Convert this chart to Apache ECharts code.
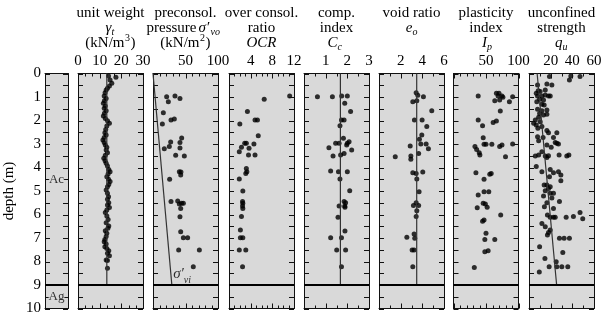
<!DOCTYPE html>
<html>
<head>
<meta charset="utf-8">
<script src="https://cdn.jsdelivr.net/npm/echarts@6/dist/echarts.min.js"></script>
<style>
  html, body { margin: 0; padding: 0; background: #fff; }
  #chart { width: 610px; height: 320px; }
</style>
</head>
<body>
<div id="chart"></div>
<script>
// values: [value, depth (m)]
const gammaT = [
  [14.1, 0.11], [14.8, 0.28], [17.5, 0.16], [15.6, 0.42], [14.5, 0.53], [13.6, 0.63],
  [13.0, 0.70], [12.5, 0.82], [12.1, 0.96], [13.0, 1.06], [12.2, 1.16], [11.7, 1.27],
  [12.6, 1.38], [12.1, 1.48], [13.0, 1.58], [12.2, 1.69], [11.7, 1.81], [12.6, 1.91],
  [13.6, 2.01], [14.5, 2.12], [13.3, 2.23], [12.8, 2.38], [12.4, 2.52], [13.0, 2.62],
  [12.1, 2.72], [11.5, 2.83], [12.1, 2.94], [12.6, 3.04], [13.3, 3.14], [13.0, 3.25],
  [13.6, 3.37], [12.6, 3.48], [11.9, 3.61], [12.5, 3.71], [13.0, 3.82], [13.6, 3.94],
  [14.2, 4.08], [14.8, 4.18], [13.9, 4.28], [13.3, 4.39], [14.1, 4.50], [14.8, 4.60],
  [14.2, 4.72], [13.6, 4.82], [13.0, 4.96], [13.6, 5.10], [14.1, 5.24], [13.6, 5.35],
  [14.2, 5.50], [13.6, 5.60], [14.5, 5.70], [13.3, 5.81], [12.6, 5.92], [13.3, 6.06],
  [13.9, 6.21], [13.0, 6.35], [14.2, 6.49], [13.8, 6.59], [12.6, 6.69], [13.3, 6.80],
  [13.0, 6.94], [12.4, 7.06], [12.1, 7.16], [13.0, 7.26], [12.4, 7.37], [13.3, 7.45],
  [14.2, 7.54], [13.6, 7.65], [14.5, 7.75], [13.0, 7.94], [13.6, 7.96], [13.6, 8.29]
];
const gammaLine = [[13.3, 0], [13.3, 9]];

const sigmaP = [
  [21, 0.99], [23.6, 1.2], [33.8, 0.96], [41.5, 1.06], [15.9, 1.67], [14.4, 2.15],
  [27.7, 1.98], [32.8, 1.94], [44.1, 2.74], [27.2, 2.91], [41.5, 2.94], [17.4, 3.2],
  [25.1, 3.11], [41.5, 3.17], [34.9, 3.48], [48.2, 3.51], [40.5, 4.18], [43, 4.19],
  [42.6, 4.32], [25.6, 4.5], [27.7, 5.45], [38, 5.43], [40.5, 5.55], [44, 5.52],
  [46.7, 5.52], [42.6, 5.74], [41.5, 6.1], [42.6, 6.73], [46.7, 6.99], [53.3, 6.99],
  [39.5, 7.51], [71.3, 7.51], [62, 8.22]
];
const sigmaVi = [[0, 0], [29, 9]];
const sigmaViLabel = [[45, 8.62]];

const ocr = [
  [11.2, 0.96], [6.5, 1.1], [3.4, 1.62], [4.8, 1.98], [5.25, 1.98], [2.0, 2.15],
  [5.4, 2.65], [2.9, 2.97], [3.2, 2.97], [2.3, 3.14], [3.7, 3.18], [4.6, 3.0],
  [1.9, 3.33], [3.6, 3.47], [4.8, 3.47], [3.2, 4.04], [3.3, 4.18], [3.1, 4.25],
  [1.9, 4.49], [2.55, 5.0], [2.5, 5.45], [2.55, 5.52], [2.5, 5.64], [2.55, 5.74],
  [2.3, 6.09], [2.1, 6.66], [2.1, 6.99], [2.55, 6.99], [1.9, 7.51], [3.1, 7.51],
  [2.5, 8.22]
];

const cc = [
  [0.62, 0.99], [1.31, 0.99], [1.74, 0.96], [2.0, 0.96], [1.88, 1.27], [2.15, 1.62],
  [1.73, 1.98], [1.85, 1.98], [1.66, 2.22], [1.82, 2.76], [1.46, 2.97], [1.62, 2.97],
  [2.0, 2.97], [2.08, 2.9], [1.97, 3.04], [1.15, 3.16], [2.2, 3.26], [1.85, 3.4],
  [1.69, 3.47], [1.34, 3.51], [1.23, 4.15], [1.59, 4.18], [2.0, 4.18], [1.66, 4.49],
  [2.11, 4.99], [1.85, 5.45], [1.92, 5.5], [1.88, 5.64], [1.62, 5.64], [1.89, 5.69],
  [1.57, 6.12], [1.89, 6.7], [1.23, 6.99], [1.73, 6.99], [1.51, 7.51], [1.92, 7.51],
  [1.73, 8.22]
];
const ccLine = [[1.68, 0], [1.68, 9]];

const e0 = [
  [3.43, 0.82], [3.58, 0.93], [3.12, 1.2], [3.49, 1.16], [4.1, 0.99], [4.87, 1.58],
  [3.27, 1.98], [3.98, 1.98], [4.41, 2.26], [3.95, 2.62], [3.73, 2.8], [3.86, 3.0],
  [4.35, 3.0], [2.88, 3.09], [4.56, 3.2], [3.66, 3.4], [1.5, 3.54], [2.94, 3.51],
  [2.94, 3.65], [3.12, 4.22], [3.43, 4.25], [4.04, 4.19], [3.49, 4.49], [3.7, 5.03],
  [3.43, 5.5], [3.18, 5.62], [3.66, 5.62], [3.49, 5.84], [3.43, 6.09], [3.24, 6.83],
  [2.57, 6.97], [3.3, 7.01], [3.06, 7.51], [3.24, 7.51], [3.12, 8.22]
];
const e0Line = [[3.48, 0], [3.48, 9]];

const ip = [
  [38, 0.96], [66, 0.84], [70, 0.84], [68.6, 0.96], [74.6, 0.96], [76, 1.01],
  [63.5, 1.16], [71, 1.13], [86, 1.2], [91, 0.99], [72, 1.6], [38, 1.98],
  [44.7, 2.22], [61, 2.09], [66, 2.02], [45.7, 2.73], [33, 3.11], [35.6, 3.23],
  [47, 3.01], [50, 3.01], [59, 3.01], [71, 3.11], [74.6, 3.04], [91, 3.0],
  [39.6, 3.37], [40.6, 3.47], [80, 3.54], [34.5, 4.22], [55.8, 4.29], [58, 4.25],
  [47, 4.5], [38, 5.17], [47, 5.03], [54.3, 5.03], [45.7, 5.52], [49, 5.55],
  [51.8, 5.69], [36.5, 5.71], [72.6, 6.02], [44.7, 6.29], [47, 6.23], [50, 6.8],
  [48.2, 7.06], [63.5, 7.06], [48.2, 7.58], [53.3, 7.54], [32, 8.25]
];

const qu = [
  [18.9, 0.13], [38.6, 0.11], [37.3, 0.28], [47.1, 0.13], [7.9, 0.49], [16.5, 0.45],
  [21.1, 0.49], [15, 0.7], [8.5, 0.73], [6.7, 0.84], [10.3, 0.77], [7.9, 0.96],
  [11.9, 0.96], [15, 0.92], [18, 0.96], [19.6, 0.96], [9.8, 1.1], [13.4, 1.13],
  [7.2, 1.2], [11.9, 1.31], [14, 1.34], [7.9, 1.52], [11.9, 1.58], [16.5, 1.55],
  [9.8, 1.7], [13.4, 1.77], [16.5, 1.73], [8.9, 1.86], [5.8, 1.98], [10.3, 2.05],
  [6.7, 2.19], [4.3, 2.12], [8.2, 2.33], [11.9, 2.26], [16.5, 2.43], [18, 2.52],
  [25.7, 2.52], [22.6, 2.72], [7.9, 2.69], [13, 2.72], [8.9, 2.86], [24.2, 2.94],
  [25.7, 2.97], [27.2, 3.0], [16.5, 3.04], [20.5, 3.14], [11.9, 3.33], [5.8, 3.51],
  [8.9, 3.47], [15, 3.51], [16.5, 3.57], [18, 3.5], [34.9, 3.51], [36.8, 3.47],
  [27.8, 3.47], [6.7, 3.96], [11.9, 4.18], [19.6, 4.08], [22.6, 4.22], [27.2, 4.18],
  [29.4, 4.32], [29.4, 4.56], [18.9, 4.39], [14, 4.74], [16.5, 4.74], [18, 4.89],
  [15, 4.99], [19.6, 4.82], [19.6, 5.1], [22.6, 5.1], [13.4, 5.21], [16.5, 5.5],
  [21.1, 5.3], [28.1, 5.45], [14.2, 5.67], [22.6, 5.74], [17, 6.02], [19.6, 6.12],
  [22.6, 6.12], [24.2, 6.12], [34.3, 6.12], [41, 6.09], [47.1, 5.92], [49.6, 6.18],
  [11.9, 6.38], [15, 6.52], [19.6, 6.66], [18, 6.77], [17, 6.87], [28.1, 7.01],
  [32.4, 7.01], [37.3, 7.01], [9.8, 7.37], [31.2, 7.62], [14.7, 7.87], [25.1, 8.01],
  [18.6, 8.22], [25.7, 8.22], [30.3, 8.22], [35.8, 8.22], [9.5, 8.45]
];
const quLine = [[7.5, 0], [25.5, 9]];

const soilLayers = [[0.5, 4.5, 'Ac'], [0.5, 9.5, 'Ag']];
const layerBoundary = 9;
const depthMin = 0, depthMax = 10, depthTickStep = 0.5;

const FONT = '"Liberation Serif", "Times New Roman", serif';
const TOP = 73.5;
const HEIGHT = 235;
const PANEL_W = 65;
const BG = '#d9d9d9';
const INK = '#111';

// one entry per property column
const panels = [
  { left: 78,    min: 0, max: 30,  interval: 10, minor: 3, zero: true,  points: gammaT, line: gammaLine },
  { left: 153,   min: 0, max: 100, interval: 50, minor: 5, zero: false, points: sigmaP, line: sigmaVi },
  { left: 229,   min: 0, max: 12,  interval: 4,  minor: 4, zero: false, points: ocr,    line: null },
  { left: 304,   min: 0, max: 3,   interval: 1,  minor: 2, zero: false, points: cc,     line: ccLine },
  { left: 379,   min: 0, max: 6,   interval: 2,  minor: 2, zero: false, points: e0,     line: e0Line },
  { left: 453.5, min: 0, max: 100, interval: 50, minor: 5, zero: false, points: ip,     line: null },
  { left: 529,   min: 0, max: 60,  interval: 20, minor: 2, zero: false, points: qu,     line: quLine }
];
const soilAxis = { min: 0, max: 1, interval: 1, minor: 1, zero: false, noXTicks: true };

const grids = [{ left: 45, top: TOP, width: 23, height: HEIGHT, show: true, backgroundColor: BG, borderWidth: 0 }];
panels.forEach(p => grids.push({ left: p.left, top: TOP, width: PANEL_W, height: HEIGHT, show: true, backgroundColor: BG, borderWidth: 0 }));

const ink = () => ({ color: INK, width: 1 });

// axis ticks would not render here, so the inward ticks come from a custom series below
function xAxisFor(gi, p, position, showLabel) {
  return {
    type: 'value', gridIndex: gi, position: position,
    min: p.min, max: p.max, interval: p.interval,
    axisLine: { show: true, onZero: false, lineStyle: ink() },
    axisTick: { show: false },
    splitLine: { show: false },
    axisLabel: {
      show: showLabel, fontFamily: FONT, fontSize: 15, color: '#000', margin: 5,
      formatter: v => (v === 0 && !p.zero) ? '' : String(v)
    }
  };
}

function yAxisFor(gi, position, showLabel) {
  const ax = {
    type: 'value', gridIndex: gi, position: position, inverse: true,
    min: depthMin, max: depthMax, interval: 1,
    axisLine: { show: true, onZero: false, lineStyle: ink() },
    axisTick: { show: false },
    splitLine: { show: false },
    axisLabel: { show: showLabel, fontFamily: FONT, fontSize: 15, color: '#000', margin: 4 }
  };
  if (showLabel) {
    ax.name = 'depth (m)';
    ax.nameLocation = 'middle';
    ax.nameGap = 28;
    ax.nameRotate = 90;
    ax.nameTextStyle = { fontFamily: FONT, fontSize: 15, color: '#000' };
  }
  return ax;
}

const xAxes = [xAxisFor(0, soilAxis, 'top', false), xAxisFor(0, soilAxis, 'bottom', false)];
const yAxes = [yAxisFor(0, 'left', true), yAxisFor(0, 'right', false)];
panels.forEach((p, i) => {
  xAxes.push(xAxisFor(i + 1, p, 'top', true), xAxisFor(i + 1, p, 'bottom', false));
  yAxes.push(yAxisFor(i + 1, 'left', false), yAxisFor(i + 1, 'right', false));
});

// tick list for one panel: [0, x value, length] on top/bottom, [1, depth, length] on left/right
function tickList(p) {
  const out = [];
  if (!p.noXTicks) {
    const step = p.interval / p.minor;
    const n = Math.round((p.max - p.min) / step);
    for (let k = 0; k <= n; k++) out.push([0, p.min + k * step, k % p.minor === 0 ? 5 : 3]);
  }
  const m = Math.round((depthMax - depthMin) / depthTickStep);
  for (let k = 0; k <= m; k++) out.push([1, depthMin + k * depthTickStep, 5]);
  return out;
}

function tickSeries(p, axisIndex) {
  return {
    type: 'custom', xAxisIndex: axisIndex, yAxisIndex: axisIndex, silent: true, z: 3,
    data: tickList(p),
    renderItem: (params, api) => {
      const kind = api.value(0), v = api.value(1), len = api.value(2);
      const st = { stroke: INK, lineWidth: 1 };
      if (kind === 0) {
        const a = api.coord([v, depthMin]), b = api.coord([v, depthMax]);
        const x = Math.round(a[0]) + 0.5;
        return { type: 'group', children: [
          { type: 'line', shape: { x1: x, y1: a[1], x2: x, y2: a[1] + len }, style: st },
          { type: 'line', shape: { x1: x, y1: b[1], x2: x, y2: b[1] - len }, style: st }
        ] };
      }
      const a = api.coord([p.min, v]), b = api.coord([p.max, v]);
      const y = Math.round(a[1]) + 0.5;
      return { type: 'group', children: [
        { type: 'line', shape: { x1: a[0], y1: y, x2: a[0] + len, y2: y }, style: st },
        { type: 'line', shape: { x1: b[0], y1: y, x2: b[0] - len, y2: y }, style: st }
      ] };
    }
  };
}

const boundaryMark = () => ({
  silent: true, symbol: ['none', 'none'], label: { show: false },
  lineStyle: { color: '#000', width: 2, type: 'solid' },
  data: [{ yAxis: layerBoundary }]
});

const series = [{
  type: 'scatter', xAxisIndex: 0, yAxisIndex: 0, symbolSize: 0, z: 4,
  data: soilLayers,
  label: {
    show: true, position: 'inside', formatter: d => d.value[2],
    fontFamily: FONT, fontSize: 13, color: '#000', backgroundColor: BG
  },
  markLine: boundaryMark()
}, tickSeries(soilAxis, 0)];

panels.forEach((p, i) => {
  const ax = (i + 1) * 2;
  series.push({
    type: 'scatter', xAxisIndex: ax, yAxisIndex: ax, symbolSize: 5,
    itemStyle: { color: '#000' }, data: p.points, markLine: boundaryMark()
  });
  if (p.line) {
    series.push({
      type: 'line', xAxisIndex: ax, yAxisIndex: ax, symbol: 'none',
      lineStyle: { color: '#333', width: 1.2 }, data: p.line
    });
  }
  series.push(tickSeries(p, ax));
});

// σ'vi label next to the in-situ stress line
series.push({
  type: 'scatter', xAxisIndex: 4, yAxisIndex: 4, symbolSize: 0, data: sigmaViLabel,
  label: {
    show: true, position: 'inside',
    formatter: '{s|σ′}{b|vi}{pad| }',
    rich: {
      s: { fontFamily: FONT, fontSize: 15, fontStyle: 'italic', color: '#000', lineHeight: 15, verticalAlign: 'top' },
      b: { fontFamily: FONT, fontSize: 10, fontStyle: 'italic', color: '#000', lineHeight: 10, verticalAlign: 'bottom' },
      pad: { fontSize: 1, lineHeight: 19 }
    }
  }
});

// column headings
const heads = [];
function txt(x, y, text, opt) {
  opt = opt || {};
  heads.push({
    type: 'text', x: x, y: y,
    style: {
      text: text, fill: '#000', fontFamily: FONT,
      fontSize: opt.size || 15, fontStyle: opt.italic ? 'italic' : 'normal',
      align: opt.align || 'center', verticalAlign: 'middle'
    }
  });
}
function sym(cx, y, main, sub) {
  txt(cx + 1, y, main, { italic: true, align: 'right' });
  txt(cx + 1, y + 4, sub, { italic: true, size: 10, align: 'left' });
}
const cx = panels.map(p => p.left + PANEL_W / 2);
const L1 = 13, L2 = 28.5, L3 = 43.5;

txt(cx[0], L1, 'unit weight');
sym(cx[0], L2, 'γ', 't');
txt(cx[0] + 14, L3, '(kN/m', { align: 'right' });
txt(cx[0] + 14.5, L3 - 5, '3', { size: 10, align: 'left' });
txt(cx[0] + 20, L3, ')', { align: 'left' });

txt(cx[1], L1, 'preconsol.');
txt(cx[1] + 11, L2, 'pressure', { align: 'right' });
txt(cx[1] + 13, L2, 'σ′', { italic: true, align: 'left' });
txt(cx[1] + 25, L2 + 4, 'vo', { italic: true, size: 10, align: 'left' });
txt(cx[1] + 14, L3, '(kN/m', { align: 'right' });
txt(cx[1] + 14.5, L3 - 5, '2', { size: 10, align: 'left' });
txt(cx[1] + 20, L3, ')', { align: 'left' });

txt(cx[2], L1, 'over consol.');
txt(cx[2], L2, 'ratio');
txt(cx[2], L3, 'OCR', { italic: true });

txt(cx[3], L1, 'comp.');
txt(cx[3], L2, 'index');
sym(cx[3], L3, 'C', 'c');

txt(cx[4], L1, 'void ratio');
sym(cx[4], L2, 'e', 'o');

txt(cx[5], L1, 'plasticity');
txt(cx[5], L2, 'index');
sym(cx[5], L3, 'I', 'p');

txt(cx[6], L1, 'unconfined');
txt(cx[6], L2, 'strength');
sym(cx[6], L3, 'q', 'u');

const chart = echarts.init(document.getElementById('chart'));
chart.setOption({
  animation: false,
  grid: grids,
  xAxis: xAxes,
  yAxis: yAxes,
  series: series,
  graphic: heads
});
</script>
</body>
</html>
